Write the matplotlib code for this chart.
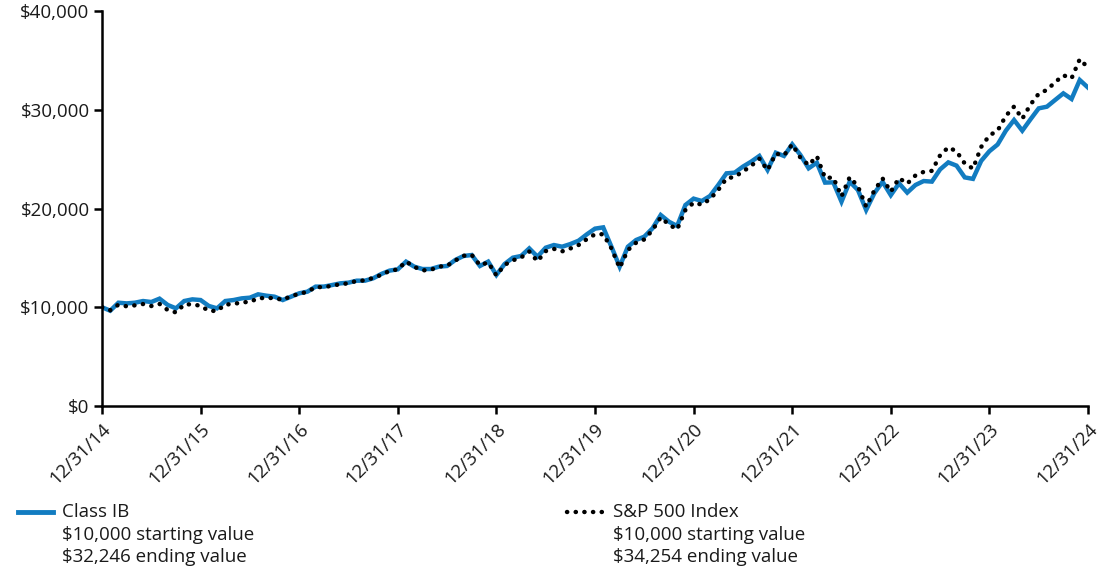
import matplotlib
matplotlib.use("Agg")
import matplotlib.pyplot as plt
from matplotlib.lines import Line2D
import numpy as np

plt.rcParams['font.family'] = ['Open Sans', 'DejaVu Sans']
plt.rcParams['text.parse_math'] = False

# Monthly values, 12/31/14 .. 12/31/24
class_ib = [
    10000,
    9650, 10460, 10390, 10460, 10630, 10530, 10870, 10230, 9890, 10630, 10800, 10730,
    10130, 9890, 10630, 10730, 10900, 10970, 11310, 11170, 11070, 10730, 11070, 11410,
    11580, 12090, 12090, 12250, 12420, 12490, 12690, 12690, 12930, 13370, 13710, 13840,
    14620, 14110, 13870, 13870, 14110, 14180, 14790, 15190, 15290, 14180, 14620, 13270,
    14380, 15020, 15190, 15960, 15120, 16030, 16300, 16130, 16400, 16740, 17380, 17960,
    18090, 16130, 14110, 16130, 16810, 17150, 17990, 19340, 18660, 18230, 20350, 21000,
    20760, 21270, 22380, 23560, 23630, 24240, 24740, 25320, 23900, 25650, 25320, 26500,
    25420, 24070, 24640, 22620, 22650, 20690, 22720, 21870, 19850, 21550, 22700, 21350,
    22550, 21610, 22380, 22780, 22720, 23960, 24670, 24340, 23150, 23000, 24820, 25800,
    26480, 27880, 28960, 27880, 29030, 30140, 30310, 30990, 31660, 31090, 33010, 32246,
]
sp500 = [
    10000,
    9700, 10258, 10096, 10193, 10324, 10124, 10337, 9714, 9474, 10273, 10304, 10138,
    9638, 9625, 10278, 10318, 10504, 10531, 10920, 10935, 10937, 10738, 11135, 11351,
    11572, 12031, 12046, 12170, 12341, 12418, 12674, 12713, 12975, 13277, 13685, 13829,
    14630, 14090, 13732, 13784, 14116, 14204, 14732, 15213, 15299, 14253, 14544, 13223,
    14291, 14750, 15036, 15645, 14652, 15685, 15911, 15660, 15953, 16299, 16891, 17387,
    17394, 15962, 13991, 15785, 16536, 16865, 17816, 19097, 18371, 17882, 19840, 20586,
    20394, 20957, 21875, 23043, 23204, 23745, 24310, 25049, 23884, 25558, 25382, 26496,
    25148, 24396, 25301, 23095, 23137, 21228, 23185, 22239, 20191, 21826, 23046, 21698,
    23083, 22520, 23346, 23710, 23812, 25386, 26201, 25784, 24555, 24039, 26234, 27402,
    27886, 29375, 30321, 29084, 30526, 31622, 32008, 32786, 33488, 33183, 35131, 34254,
]
x_tick_labels = ["12/31/14", "12/31/15", "12/31/16", "12/31/17", "12/31/18", "12/31/19",
                 "12/31/20", "12/31/21", "12/31/22", "12/31/23", "12/31/24"]
y_ticks = [0, 10000, 20000, 30000, 40000]
y_tick_labels = ["$0", "$10,000", "$20,000", "$30,000", "$40,000"]
legend_texts = [
    ["Class IB", "$10,000 starting value", "$32,246 ending value"],
    ["S&P 500 Index", "$10,000 starting value", "$34,254 ending value"],
]

BLUE = '#127CC1'
FS = 13.5

fig = plt.figure(figsize=(11, 5.78), dpi=100)
ax = fig.add_axes([102/1100, 1 - 406/578, (1088 - 102)/1100, (406 - 11)/578])

months = np.arange(len(class_ib))
ax.plot(months, class_ib, color=BLUE, lw=3.2, solid_joinstyle='miter', zorder=2)
ax.plot(months, sp500, color='black', lw=3.2, linestyle=(0, (0.05, 1.9)),
        dash_capstyle='round', zorder=3)

ax.set_xlim(0, 120)
ax.set_ylim(0, 40000)
ax.set_xticks(np.arange(0, 121, 12))
ax.set_xticklabels(x_tick_labels, rotation=45, ha='right', rotation_mode='anchor',
                   fontsize=FS, color='#1a1a1a')
ax.set_yticks(y_ticks)
ax.set_yticklabels(y_tick_labels, fontsize=FS, color='#1a1a1a')
ax.tick_params(axis='both', direction='out', length=6, width=1.8, color='black')
ax.tick_params(axis='x', pad=4)
ax.tick_params(axis='y', pad=3)
for s in ['top', 'right']:
    ax.spines[s].set_visible(False)
for s in ['left', 'bottom']:
    ax.spines[s].set_linewidth(1.8)
    ax.spines[s].set_color('black')
    ax.spines[s].set_capstyle('projecting')

# legend
W, H = 1100, 578
def fx(px):
    return px / W
def fy(py):
    return 1 - py / H

fig.add_artist(Line2D([fx(18), fx(53)], [fy(512), fy(512)], color=BLUE, lw=3.5))
fig.add_artist(Line2D([fx(567), fx(604)], [fy(512), fy(512)], color='black', lw=3.2,
                      linestyle=(0, (0.05, 1.9)), dash_capstyle='round'))
for x0, lines in zip([62, 613], legend_texts):
    for i, t in enumerate(lines):
        fig.text(fx(x0), fy(512 + 22.5 * i), t, fontsize=FS, va='center', ha='left',
                 color='#1a1a1a')

fig.savefig('out.png', dpi=100)
